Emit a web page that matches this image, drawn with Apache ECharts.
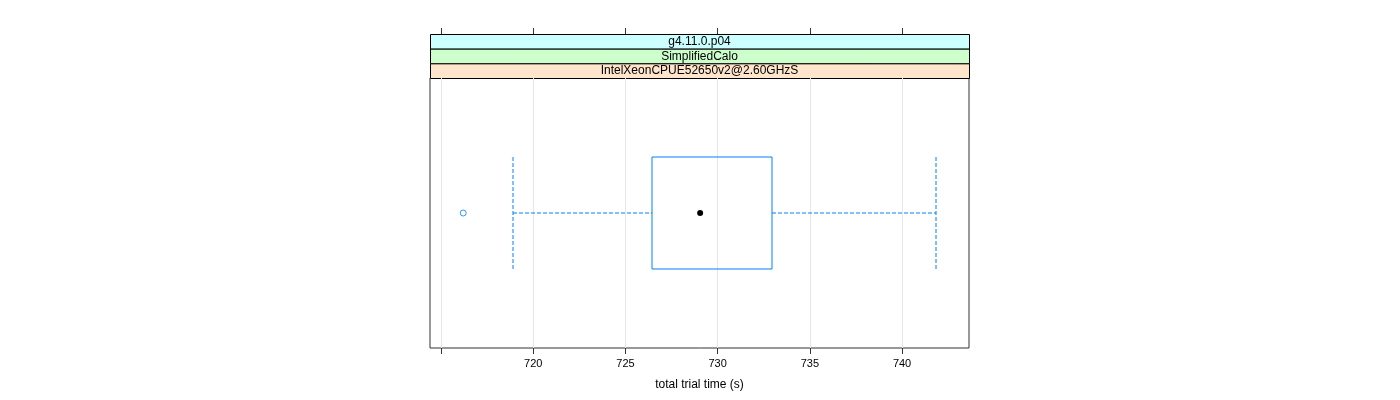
<!DOCTYPE html>
<html>
<head>
<meta charset="utf-8">
<script src="https://cdn.jsdelivr.net/npm/echarts@6/dist/echarts.min.js"></script>
<style>html,body{margin:0;padding:0;background:#fff}#c{width:1400px;height:400px}</style>
</head>
<body>
<div id="c"></div>
<script>
// ---- data ----
const stripLabels = ['g4.11.0.p04', 'SimplifiedCalo', 'IntelXeonCPUE52650v2@2.60GHzS'];
const stripColors = ['#ccffff', '#ccffcc', '#ffe5cc'];
const boxStats = [718.92, 726.45, 729.05, 732.95, 741.84]; // lower whisker, Q1, median, Q3, upper whisker
const outliers = [716.2];
const tickValues = [715, 720, 725, 730, 735, 740];
const tickLabels = ['', '720', '725', '730', '735', '740'];
const axisMin = 714.4, axisMax = 743.63;
const xTitle = 'total trial time (s)';

const FONT = '"Liberation Sans", Arial, sans-serif';
const BLUE = '#0080ff';
const L = 430, R = 969, T = 34, STRIP_H = 44 / 3, PB = 348;

const chart = echarts.init(document.getElementById('c'), null, {renderer: 'canvas'});

const graphics = stripLabels.map((s, i) => ({
  type: 'group',
  z: 100,
  children: [
    {type: 'rect', shape: {x: L + 0.5, y: T + 0.5 + i * STRIP_H, width: R - L, height: STRIP_H},
     style: {fill: stripColors[i], stroke: '#000', lineWidth: 1}},
    {type: 'text', x: (L + R) / 2, y: T + 0.5 + i * STRIP_H + STRIP_H / 2,
     style: {text: s, font: '12px ' + FONT, fill: '#000', align: 'center', verticalAlign: 'middle'}}
  ]
}));

const option = {
  animation: false,
  graphic: graphics,
  grid: [
    {left: L, right: 1400 - R, top: T + 44, bottom: 400 - PB, show: true, borderColor: '#333', borderWidth: 1, backgroundColor: 'transparent'},
    {left: L, right: 1400 - R, top: T, bottom: 400 - PB, show: false}
  ],
  xAxis: [
    {
      type: 'value', gridIndex: 0, min: axisMin, max: axisMax, position: 'bottom',
      axisLine: {show: false, onZero: false},
      axisTick: {show: true, length: 6, lineStyle: {color: '#333'}, customValues: tickValues},
      axisLabel: {show: true, margin: 10, fontFamily: FONT, fontSize: 11, color: '#000',
        customValues: tickValues,
        formatter: v => { const i = tickValues.indexOf(v); return i >= 0 ? tickLabels[i] : ''; }},
      splitLine: {show: true, lineStyle: {color: '#e6e6e6', width: 1}},
      name: xTitle, nameLocation: 'middle', nameGap: 31,
      nameTextStyle: {fontFamily: FONT, fontSize: 12, color: '#000'}
    },
    {
      type: 'value', gridIndex: 1, min: axisMin, max: axisMax, position: 'top',
      axisLine: {show: false, onZero: false},
      axisTick: {show: true, length: 6, lineStyle: {color: '#333'}, customValues: tickValues},
      axisLabel: {show: false},
      splitLine: {show: false}
    }
  ],
  yAxis: [
    {type: 'value', gridIndex: 0, min: 0, max: 1, show: false, splitLine: {show: false}},
    {type: 'value', gridIndex: 1, min: 0, max: 1, show: false, splitLine: {show: false}}
  ],
  series: [
    {
      type: 'custom',
      xAxisIndex: 0, yAxisIndex: 0,
      data: [boxStats],
      itemStyle: {color: BLUE},
      renderItem: function (params, api) {
        const lo = api.value(0), q1 = api.value(1), md = api.value(2), q3 = api.value(3), hi = api.value(4);
        const yc = 0.5, hh = 0.2074;
        const pLo = api.coord([lo, yc]), pQ1 = api.coord([q1, yc]), pMd = api.coord([md, yc]);
        const pQ3 = api.coord([q3, yc]), pHi = api.coord([hi, yc]);
        const yTop = api.coord([q1, yc + hh])[1], yBot = api.coord([q1, yc - hh])[1];
        const r = v => Math.round(v);
        const dash = () => ({stroke: BLUE, lineWidth: 1, lineDash: [4, 2], fill: 'none', opacity: 1});
        const solid = () => ({stroke: BLUE, lineWidth: 1, fill: 'none'});
        const mk = (pts) => ({type: 'polyline', shape: {points: pts}, style: dash(), z2: 10});
        return {
          type: 'group',
          children: [
            mk([[r(pLo[0]), r(pLo[1])], [r(pQ1[0]), r(pQ1[1])]]),
            mk([[r(pQ3[0]), r(pQ3[1])], [r(pHi[0]), r(pHi[1])]]),
            mk([[r(pLo[0]), r(yTop)], [r(pLo[0]), r(yBot)]]),
            mk([[r(pHi[0]), r(yTop)], [r(pHi[0]), r(yBot)]]),
            {type: 'rect', shape: {x: r(pQ1[0]), y: r(yTop), width: r(pQ3[0]) - r(pQ1[0]), height: r(yBot) - r(yTop)}, style: solid()},
            {type: 'circle', shape: {cx: pMd[0], cy: pMd[1], r: 3}, style: {fill: '#000', stroke: 'none'}}
          ]
        };
      }
    },
    {
      type: 'scatter',
      xAxisIndex: 0, yAxisIndex: 0,
      data: outliers.map(v => [v, 0.5]),
      symbol: 'circle', symbolSize: 6,
      itemStyle: {color: '#fff', borderColor: BLUE, borderWidth: 1}
    }
  ]
};
chart.setOption(option);
</script>
</body>
</html>
